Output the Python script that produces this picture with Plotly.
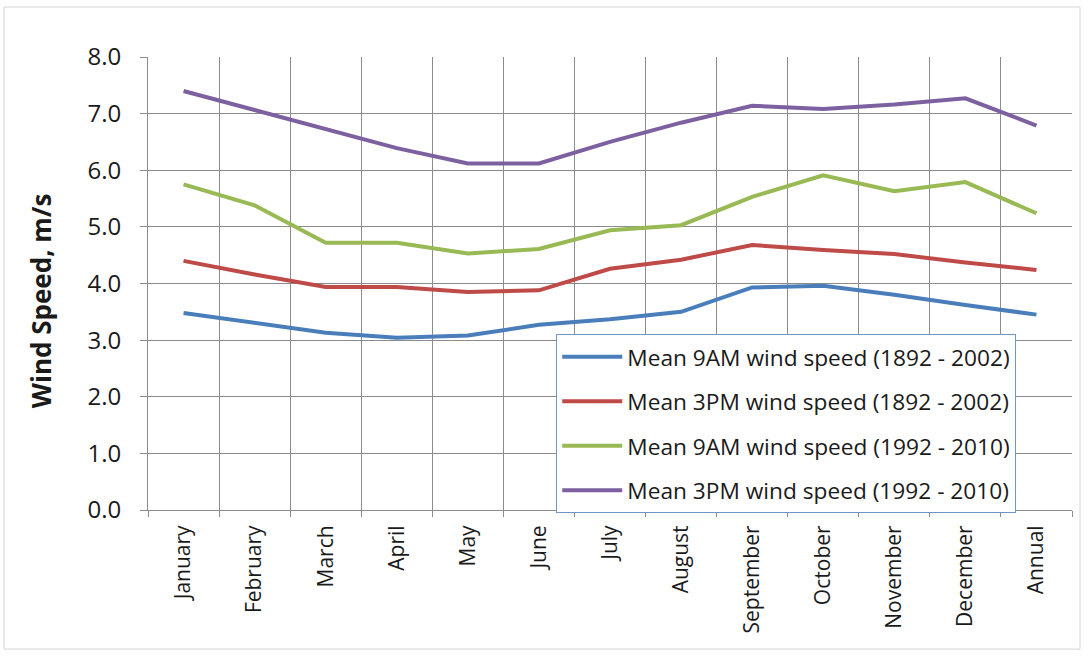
import plotly.graph_objects as go

months = ["January", "February", "March", "April", "May", "June", "July",
          "August", "September", "October", "November", "December", "Annual"]

am9_1892 = [3.48, 3.30, 3.13, 3.04, 3.08, 3.27, 3.37, 3.50, 3.93, 3.96, 3.80, 3.62, 3.45]
pm3_1892 = [4.40, 4.16, 3.94, 3.94, 3.85, 3.88, 4.26, 4.42, 4.68, 4.59, 4.52, 4.37, 4.24]
am9_1992 = [5.75, 5.38, 4.72, 4.72, 4.53, 4.61, 4.94, 5.03, 5.53, 5.91, 5.63, 5.79, 5.24]
pm3_1992 = [7.40, 7.06, 6.72, 6.39, 6.12, 6.12, 6.50, 6.84, 7.14, 7.08, 7.16, 7.27, 6.79]

series = [
    ("Mean 9AM wind speed (1892 - 2002)", am9_1892, "#4A7EBB"),
    ("Mean 3PM wind speed (1892 - 2002)", pm3_1892, "#BE4B48"),
    ("Mean 9AM wind speed (1992 - 2010)", am9_1992, "#98B954"),
    ("Mean 3PM wind speed (1992 - 2010)", pm3_1992, "#7D60A0"),
]

font_family = "'Open Sans', Lato, sans-serif"
grid = "#8C8C8C"

fig = go.Figure()
for i, (name, vals, color) in enumerate(series):
    fig.add_trace(go.Scatter(
        x=months, y=vals, name=name, mode="lines",
        line=dict(color=color, width=4),
        legendgroup=f"g{i}",
    ))

fig.update_layout(
    width=1088, height=657,
    margin=dict(l=148, r=16, t=57, b=147),
    paper_bgcolor="white", plot_bgcolor="white",
    font=dict(family=font_family, color="#1A1A1A"),
    legend=dict(
        x=0.4416, y=0.388, xanchor="left", yanchor="top",
        bgcolor="white", bordercolor="#6F95C9", borderwidth=1.2,
        font=dict(size=22.7, family=font_family, color="#1A1A1A"),
        tracegroupgap=12, itemwidth=60,
    ),
    shapes=[dict(type="rect", xref="paper", yref="paper",
                 x0=-0.1558, x1=1.0087, y0=-0.307, y1=1.1104,
                 line=dict(color="#D4D4D4", width=1), layer="below")],
    annotations=[dict(text="<b>Wind Speed, m/s</b>", textangle=-90,
                      xref="paper", yref="paper", x=-0.1158, y=0.461,
                      xanchor="center", yanchor="middle", showarrow=False,
                      font=dict(size=26, family=font_family, color="#1A1A1A"))],
)

fig.update_xaxes(
    type="category", tickson="boundaries", range=[-0.5, 12.5],
    showgrid=True, gridcolor=grid, gridwidth=1,
    showline=True, linecolor=grid, linewidth=1,
    ticks="outside", ticklen=6, tickcolor=grid,
    tickangle=-90, ticklabelstandoff=6,
    tickfont=dict(size=21, family=font_family),
)
fig.update_yaxes(
    range=[0, 8], dtick=1, tickformat=".1f",
    showgrid=True, gridcolor=grid, gridwidth=1,
    showline=True, linecolor=grid, linewidth=1,
    ticks="outside", ticklen=7, tickcolor=grid,
    zeroline=False, ticklabelstandoff=14,
    tickfont=dict(size=24, family=font_family),
)

fig.write_html("out.html", config={"displayModeBar": False},
               post_script="document.body.style.margin='0';")
